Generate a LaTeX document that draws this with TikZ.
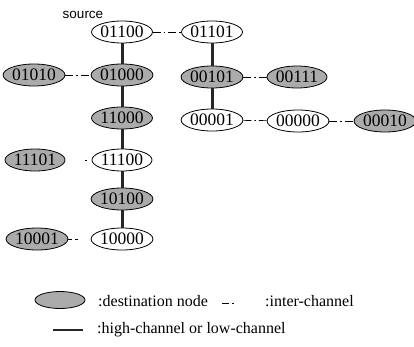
\documentclass[tikz,border=0pt]{standalone}
\usepackage{fontspec}
\setmainfont{Liberation Serif}
\newfontfamily\srcfont{Liberation Sans}
\usetikzlibrary{shapes.geometric}
\begin{document}
\begin{tikzpicture}[x=1pt,y=-1pt,
  nd/.style={ellipse,draw=black,line width=0.8pt,minimum width=56pt,minimum height=22pt,inner sep=0pt,fill=white,font=\fontsize{17.5}{17.5}\selectfont},
  dest/.style={nd,fill=black!33},
  hl/.style={line width=3pt,draw=black!85},
  inter/.style={line width=0.7pt,dash pattern=on 8pt off 3pt on 1.5pt off 3pt},
  lbl/.style={font=\fontsize{16}{16}\selectfont,anchor=west,inner sep=0pt}]
\useasboundingbox (0,0) rectangle (414,346);
\node[font=\srcfont\fontsize{13.5}{13.5}\selectfont,inner sep=0pt] (src) at (83,15) {source};
% column 2
\node[nd]   (n01100) at (122,32)  {01100};
\node[dest] (n01000) at (122,75)  {01000};
\node[dest] (n11000) at (122,118) {11000};
\node[nd]   (n11100) at (122,160) {11100};
\node[dest] (n10100) at (122,199) {10100};
\node[nd]   (n10000) at (122,239) {10000};
% column 1
\node[dest] (n01010) at (34,75)  {01010};
\node[dest] (n11101) at (35,160) {11101};
\node[dest] (n10001) at (37,239) {10001};
% column 3
\node[nd]   (n01101) at (212,32)  {01101};
\node[dest] (n00101) at (212,77)  {00101};
\node[nd]   (n00001) at (212,120) {00001};
% others
\node[dest] (n00111) at (297,77)  {00111};
\node[nd]   (n00000) at (298,121) {00000};
\node[dest] (n00010) at (385,121) {00010};
% high/low channel
\draw[hl] (n01100) -- (n01000);
\draw[hl] (n01000) -- (n11000);
\draw[hl] (n11000) -- (n11100);
\draw[hl] (n11100) -- (n10100);
\draw[hl] (n10100) -- (n10000);
\draw[hl] (n01101) -- (n00101);
\draw[hl] (n00101) -- (n00001);
% inter channel
\draw[inter] (n01100) -- (n01101);
\draw[inter] (n01010) -- (n01000);
\draw[inter] (n00101) -- (n00111);
\draw[inter] (n00001) -- (n00000);
\draw[inter] (n00000) -- (n00010);
\draw[line width=0.7pt,dash pattern=on 0pt off 20pt on 1.5pt off 40pt] (n11101) -- (n11100);
\draw[line width=0.7pt,dash pattern=on 4pt off 3pt on 3pt off 40pt] (n10001) -- (n10000);
% legend
\node[dest,minimum width=50pt,minimum height=17pt] (legd) at (60,300) {};
\node[lbl] (legdt) at (98,301) {:destination node};
\coordinate (li1) at (222,303);
\coordinate (li2) at (234,303);
\draw[line width=0.7pt,dash pattern=on 7pt off 3pt on 1.5pt off 3pt] (li1) -- (li2);
\node[lbl] (legit) at (265,301) {:inter-channel};
\coordinate (lh1) at (53,330);
\coordinate (lh2) at (83,330);
\draw[hl,line width=2.5pt] (lh1) -- (lh2);
\node[lbl] (leght) at (97,330) {:high-channel or low-channel};
\end{tikzpicture}
\end{document}
